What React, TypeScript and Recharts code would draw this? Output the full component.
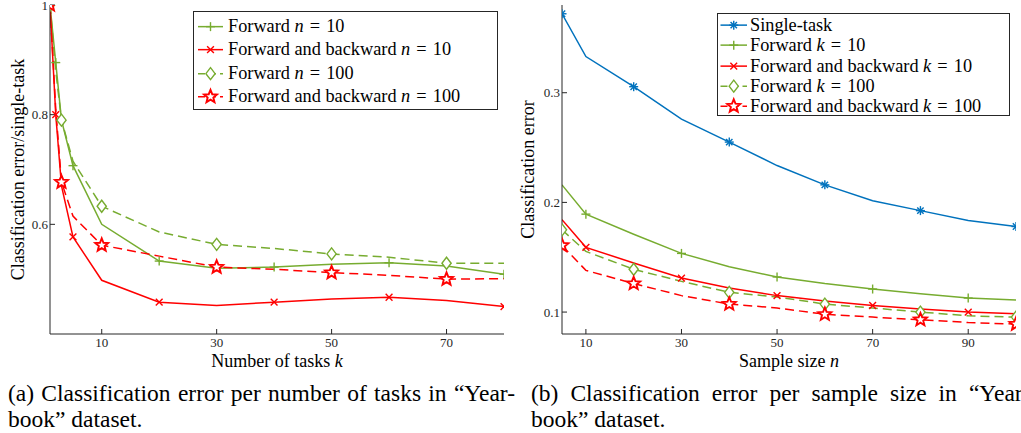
import React from 'react';
import { LineChart, Line, XAxis, YAxis, Legend, Label } from 'recharts';

const FONT = '"Liberation Serif", "Times New Roman", Times, serif';
const AXIS = '#262626';
const GREEN = '#77AC30';
const RED = '#FF0000';
const BLUE = '#0072BD';

// ---------- Panel (a): error ratio vs number of tasks k ----------
const tasksK = [1, 2, 3, 5, 10, 20, 30, 40, 50, 60, 70, 80];
const fwdN10 = [1.0, 0.895, 0.79, 0.707, 0.6, 0.533, 0.52, 0.522, 0.527, 0.53, 0.524, 0.509];
const fbN10 = [1.0, 0.8, 0.67, 0.577, 0.498, 0.458, 0.452, 0.458, 0.464, 0.467, 0.461, 0.45];
const fwdN100 = [1.0, 0.88, 0.79, 0.715, 0.633, 0.586, 0.5635, 0.556, 0.546, 0.54, 0.529, 0.529];
const fbN100 = [1.0, 0.81, 0.677, 0.615, 0.562, 0.542, 0.522, 0.518, 0.512, 0.507, 0.5, 0.501];
const tasksTicks = [10, 30, 50, 70];
const ratioTicks = [0.6, 0.8, 1];

// ---------- Panel (b): error vs sample size n ----------
const sampleN = [5, 10, 20, 30, 40, 50, 60, 70, 80, 90, 100];
const singleTask = [0.372, 0.333, 0.3055, 0.276, 0.255, 0.2336, 0.216, 0.2015, 0.1925, 0.1834, 0.178];
const fwdK10 = [0.216, 0.1893, 0.171, 0.1535, 0.1413, 0.132, 0.126, 0.121, 0.1167, 0.1128, 0.111];
const fbK10 = [0.1843, 0.159, 0.1448, 0.131, 0.122, 0.115, 0.11, 0.106, 0.1027, 0.1, 0.0985];
const fwdK100 = [0.175, 0.1553, 0.139, 0.128, 0.118, 0.1137, 0.1073, 0.1037, 0.1, 0.0966, 0.0954];
const fbK100 = [0.1608, 0.138, 0.126, 0.115, 0.1073, 0.1037, 0.098, 0.0954, 0.093, 0.0905, 0.089];
const sampleTicks = [10, 30, 50, 70, 90];
const errorTicks = [0.1, 0.2, 0.3];

const dataA = tasksK.map((k, i) => ({ k, fwd10: fwdN10[i], fb10: fbN10[i], fwd100: fwdN100[i], fb100: fbN100[i] }));
const dataB = sampleN.map((n, i) => ({ n, single: singleTask[i], fwd10: fwdK10[i], fb10: fbK10[i], fwd100: fwdK100[i], fb100: fbK100[i] }));

type Kind = 'plus' | 'cross' | 'diamond' | 'star' | 'asterisk';

function starPoints(cx: number, cy: number, ro: number, ri: number) {
  const pts: string[] = [];
  for (let i = 0; i < 10; i++) {
    const r = i % 2 === 0 ? ro : ri;
    const a = -Math.PI / 2 + (i * Math.PI) / 5;
    pts.push(`${(cx + r * Math.cos(a)).toFixed(2)},${(cy + r * Math.sin(a)).toFixed(2)}`);
  }
  return pts.join(' ');
}

function MarkerShape({ kind, cx, cy, color }: { kind: Kind; cx: number; cy: number; color: string }) {
  const sw = 1.4;
  if (kind === 'plus') {
    const r = 4.5;
    return (
      <g stroke={color} strokeWidth={sw} fill="none">
        <line x1={cx - r} y1={cy} x2={cx + r} y2={cy} />
        <line x1={cx} y1={cy - r} x2={cx} y2={cy + r} />
      </g>
    );
  }
  if (kind === 'cross') {
    const r = 3.4;
    return (
      <g stroke={color} strokeWidth={sw} fill="none">
        <line x1={cx - r} y1={cy - r} x2={cx + r} y2={cy + r} />
        <line x1={cx - r} y1={cy + r} x2={cx + r} y2={cy - r} />
      </g>
    );
  }
  if (kind === 'asterisk') {
    const r = 4.5;
    const d = 3.2;
    return (
      <g stroke={color} strokeWidth={sw} fill="none">
        <line x1={cx - r} y1={cy} x2={cx + r} y2={cy} />
        <line x1={cx} y1={cy - r} x2={cx} y2={cy + r} />
        <line x1={cx - d} y1={cy - d} x2={cx + d} y2={cy + d} />
        <line x1={cx - d} y1={cy + d} x2={cx + d} y2={cy - d} />
      </g>
    );
  }
  if (kind === 'diamond') {
    return (
      <polygon
        points={`${cx},${cy - 6} ${cx + 4.6},${cy} ${cx},${cy + 6} ${cx - 4.6},${cy}`}
        stroke={color}
        strokeWidth={sw}
        fill="#fff"
      />
    );
  }
  return <polygon points={starPoints(cx, cy, 6.8, 3.0)} stroke={color} strokeWidth={1.9} fill="#fff" strokeLinejoin="miter" />;
}

const makeDot = (kind: Kind, color: string, parity: number) => (props: any) => {
  const { cx, cy, index } = props;
  if (cx == null || cy == null || index % 2 !== parity) return <g key={`d-${index}`} />;
  return (
    <g key={`d-${index}`}>
      <MarkerShape kind={kind} cx={cx} cy={cy} color={color} />
    </g>
  );
};

type Series = { key: string; color: string; dashed: boolean; kind: Kind; parity: number; label: React.ReactNode };

const EQ = '\u2004=\u2004';

const seriesA: Series[] = [
  { key: 'fwd10', color: GREEN, dashed: false, kind: 'plus', parity: 1, label: <>Forward <i>n</i>{EQ}10</> },
  { key: 'fb10', color: RED, dashed: false, kind: 'cross', parity: 1, label: <>Forward and backward <i>n</i>{EQ}10</> },
  { key: 'fwd100', color: GREEN, dashed: true, kind: 'diamond', parity: 0, label: <>Forward <i>n</i>{EQ}100</> },
  { key: 'fb100', color: RED, dashed: true, kind: 'star', parity: 0, label: <>Forward and backward <i>n</i>{EQ}100</> },
];

const seriesB: Series[] = [
  { key: 'single', color: BLUE, dashed: false, kind: 'asterisk', parity: 0, label: <>Single-task</> },
  { key: 'fwd10', color: GREEN, dashed: false, kind: 'plus', parity: 1, label: <>Forward <i>k</i>{EQ}10</> },
  { key: 'fb10', color: RED, dashed: false, kind: 'cross', parity: 1, label: <>Forward and backward <i>k</i>{EQ}10</> },
  { key: 'fwd100', color: GREEN, dashed: true, kind: 'diamond', parity: 0, label: <>Forward <i>k</i>{EQ}100</> },
  { key: 'fb100', color: RED, dashed: true, kind: 'star', parity: 0, label: <>Forward and backward <i>k</i>{EQ}100</> },
];

const DASH = '9 5';

function LegendBox({ series, rowH, padTop, lineStart, lineEnd, textLeft }: { series: Series[]; rowH: number; padTop: number; lineStart: number; lineEnd: number; textLeft: number }) {
  return (
    <div
      style={{
        position: 'relative',
        width: '100%',
        height: '100%',
        boxSizing: 'border-box',
        border: `1px solid ${AXIS}`,
        background: '#fff',
        fontFamily: FONT,
        fontSize: 18.3,
        color: '#000',
      }}
    >
      {series.map((s, i) => (
        <div key={s.key} style={{ position: 'absolute', left: 0, top: padTop + i * rowH, height: rowH, width: '100%' }}>
          <svg width={lineEnd + 2} height={rowH} style={{ position: 'absolute', left: 0, top: 0 }}>
            <line x1={lineStart} y1={rowH / 2} x2={lineEnd} y2={rowH / 2} stroke={s.color} strokeWidth={1.5} strokeDasharray={s.dashed ? '7 4' : undefined} />
            <MarkerShape kind={s.kind} cx={(lineStart + lineEnd) / 2} cy={rowH / 2} color={s.color} />
          </svg>
          <span style={{ position: 'absolute', left: textLeft, top: 0, lineHeight: `${rowH}px`, whiteSpace: 'nowrap' }}>{s.label}</span>
        </div>
      ))}
    </div>
  );
}

const yLabel = (text: string) => (props: any) => {
  const vb = props.viewBox || { x: 0, y: 0, width: 0, height: 0 };
  const x = vb.x + 24;
  const y = vb.y + vb.height / 2;
  return (
    <text x={x} y={y} transform={`rotate(-90 ${x} ${y})`} textAnchor="middle" fontSize={18} fontFamily={FONT} fill="#000">
      {text}
    </text>
  );
};

const xLabel = (text: string, v: string) => (props: any) => {
  const vb = props.viewBox || { x: 0, y: 0, width: 0, height: 0 };
  const x = vb.x + vb.width / 2;
  const y = vb.y + 33;
  return (
    <text x={x} y={y} textAnchor="middle" fontSize={18} fontFamily={FONT} fill="#000">
      {text}
      <tspan fontStyle="italic">{v}</tspan>
    </text>
  );
};

const tickStyle = { fontSize: 13, fill: AXIS, fontFamily: FONT };

function Panel({
  data, xKey, series, width, xDomain, xTicks, yDomain, yTicks, yAxisW, marginRight, yText, xText, xVar, legendStyle, legendProps,
}: any) {
  return (
    <LineChart width={width} height={380} data={data} margin={{ top: 5, right: marginRight, bottom: 0, left: 0 }}>
      <XAxis
        xAxisId="b"
        dataKey={xKey}
        type="number"
        domain={xDomain}
        ticks={xTicks}
        interval={0}
        allowDataOverflow
        height={46}
        tickSize={-5}
        tickMargin={9}
        stroke={AXIS}
        tick={tickStyle}
      >
        <Label content={xLabel(xText, xVar)} />
      </XAxis>
      <XAxis xAxisId="t" orientation="top" dataKey={xKey} type="number" domain={xDomain} ticks={xTicks} interval={0} allowDataOverflow height={0} tickSize={-5} tick={false} stroke={AXIS} />
      <YAxis
        yAxisId="l"
        type="number"
        domain={yDomain}
        ticks={yTicks}
        interval={0}
        allowDataOverflow
        width={yAxisW}
        tickSize={-5}
        tickMargin={7}
        stroke={AXIS}
        tick={tickStyle}
      >
        <Label content={yLabel(yText)} />
      </YAxis>
      <YAxis yAxisId="r" orientation="right" type="number" domain={yDomain} ticks={yTicks} interval={0} allowDataOverflow width={0} tickSize={-5} tick={false} stroke={AXIS} />
      {series.map((s: Series) => (
        <Line
          key={s.key}
          xAxisId="b"
          yAxisId="l"
          type="linear"
          dataKey={s.key}
          stroke={s.color}
          strokeWidth={1.5}
          strokeDasharray={s.dashed ? DASH : undefined}
          dot={makeDot(s.kind, s.color, s.parity)}
          activeDot={false}
          isAnimationActive={false}
        />
      ))}
      <Legend
        layout="horizontal"
        align="center"
        verticalAlign="middle"
        wrapperStyle={legendStyle}
        content={() => <LegendBox series={series} {...legendProps} />}
      />
    </LineChart>
  );
}

const captionStyle: React.CSSProperties = {
  position: 'absolute',
  fontFamily: FONT,
  fontSize: 23.5,
  lineHeight: '26px',
  textAlign: 'justify',
  color: '#000',
};

export default function App() {
  return (
    <div style={{ position: 'absolute', left: 0, top: 0, width: 1021, height: 433, overflow: 'hidden', background: '#fff' }}>
      <div style={{ position: 'absolute', left: 0, top: 0 }}>
        <Panel
          data={dataA}
          xKey="k"
          series={seriesA}
          width={515}
          xDomain={[1, 80]}
          xTicks={tasksTicks}
          yDomain={[0.4, 1]}
          yTicks={ratioTicks}
          yAxisW={50}
          marginRight={11}
          yText="Classification error/single-task"
          xText="Number of tasks "
          xVar="k"
          legendStyle={{ left: 193, top: 11, width: 305, height: 99 }}
          legendProps={{ rowH: 23.3, padTop: 3, lineStart: 4, lineEnd: 29, textLeft: 34 }}
        />
      </div>
      <div style={{ position: 'absolute', left: 510, top: 0 }}>
        <Panel
          data={dataB}
          xKey="n"
          series={seriesB}
          width={511}
          xDomain={[5, 100]}
          xTicks={sampleTicks}
          yDomain={[0.08, 0.38]}
          yTicks={errorTicks}
          yAxisW={52}
          marginRight={5}
          yText="Classification error"
          xText="Sample size "
          xVar="n"
          legendStyle={{ left: 207, top: 13, width: 293, height: 103 }}
          legendProps={{ rowH: 20.25, padTop: 1.2, lineStart: 2.5, lineEnd: 29, textLeft: 32 }}
        />
      </div>
      <div style={{ ...captionStyle, left: 8, top: 380, width: 507 }}>
        (a) Classification error per number of tasks in “Year-book” dataset.
      </div>
      <div style={{ ...captionStyle, left: 531, top: 380, width: 499 }}>
        (b) Classification error per sample size in “Year-book” dataset.
      </div>
    </div>
  );
}
